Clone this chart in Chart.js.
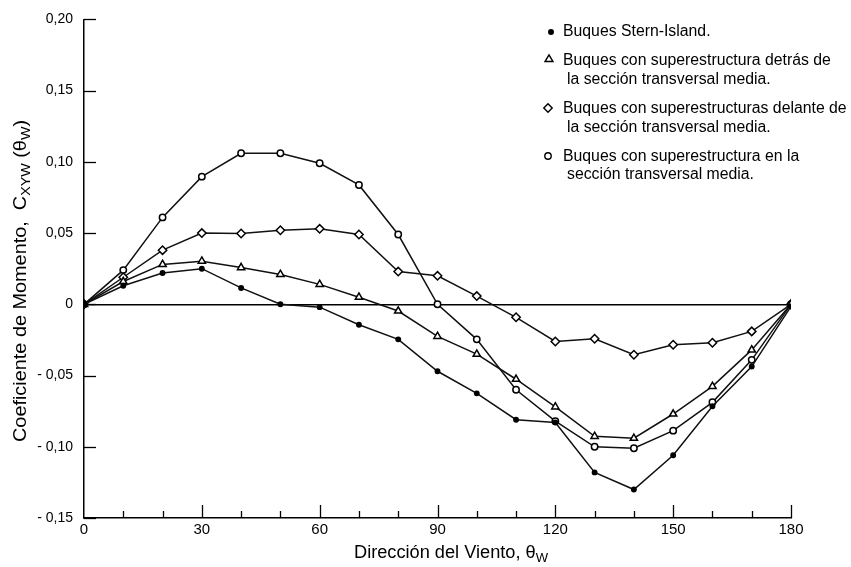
<!DOCTYPE html>
<html>
<head>
<meta charset="utf-8">
<script src="https://cdn.jsdelivr.net/npm/chart.js@4.4.1/dist/chart.umd.min.js"></script>
<style>
    html, body { margin: 0; background: #fff; }
    canvas { display: block; }
</style>
</head>
<body>
<canvas id="moment-chart" width="851" height="567"></canvas>
<script>
// Wind direction (deg) and moment coefficient per ship type
const angles = [0, 10, 20, 30, 40, 50, 60, 70, 80, 90, 100, 110, 120, 130, 140, 150, 160, 170, 180];
const sternIsland = [0, 0.013, 0.022, 0.025, 0.0115, 0, -0.002, -0.0143, -0.0246, -0.047, -0.0625, -0.081, -0.083, -0.118, -0.130, -0.106, -0.0716, -0.0437, -0.0015];
const detras = [0, 0.016, 0.028, 0.0303, 0.0258, 0.021, 0.014, 0.005, -0.0047, -0.0225, -0.035, -0.0526, -0.072, -0.0927, -0.094, -0.077, -0.0576, -0.032, 0];
const delante = [0, 0.019, 0.038, 0.050, 0.0497, 0.052, 0.053, 0.049, 0.023, 0.020, 0.0058, -0.0091, -0.0261, -0.0242, -0.0354, -0.0284, -0.027, -0.019, 0];
const enSeccion = [0, 0.024, 0.061, 0.0896, 0.106, 0.106, 0.099, 0.0838, 0.049, 0, -0.0246, -0.060, -0.082, -0.100, -0.101, -0.0887, -0.0688, -0.039, 0];

const seriesNames = [
    ['Buques Stern-Island.'],
    ['Buques con superestructura detrás de', 'la sección transversal media.'],
    ['Buques con superestructuras delante de', 'la sección transversal media.'],
    ['Buques con superestructura en la', 'sección transversal media.']
];
const yMin = -0.15, yMax = 0.20, yStep = 0.05;
const xMin = 0, xMax = 180, xStep = 30, xMinorStep = 10;

const SANS = "'Liberation Sans', Arial, sans-serif";
const NARROW = "'Liberation Sans Narrow', 'Arial Narrow', 'Liberation Sans', sans-serif";

const toPoints = vals => angles.map((a, i) => ({ x: a, y: vals[i] }));

function lineSet(name, vals, style, radius, fill) {
    return {
        label: name.join(' '), data: toPoints(vals),
        borderColor: '#111', borderWidth: 1.5, tension: 0,
        pointStyle: style, pointRadius: radius, pointBorderWidth: 1.5,
        pointBorderColor: '#000', pointBackgroundColor: fill
    };
}

// text with subscript pieces, squeezed to a target width
function drawParts(ctx, parts, size, family, x, y, targetW) {
    let w = 0;
    parts.forEach(p => { ctx.font = (p.sub ? size * 0.72 : size) + 'px ' + family; w += ctx.measureText(p.t).width; });
    const sx = targetW ? targetW / w : 1;
    ctx.save();
    ctx.translate(x, y);
    ctx.scale(sx, 1);
    let cx = 0;
    parts.forEach(p => {
        ctx.font = (p.sub ? size * 0.72 : size) + 'px ' + family;
        ctx.fillText(p.t, cx, p.sub ? size * 0.3 : 0);
        cx += ctx.measureText(p.t).width;
    });
    ctx.restore();
}

function drawMarker(ctx, style, x, y, r, fill) {
    ctx.save();
    ctx.lineWidth = 1.4;
    ctx.strokeStyle = '#000';
    ctx.fillStyle = fill;
    ctx.beginPath();
    if (style === 'circle') {
        ctx.arc(x, y, r, 0, Math.PI * 2);
    } else if (style === 'triangle') {
        ctx.moveTo(x, y - r);
        ctx.lineTo(x + r * 0.95, y + r * 0.6);
        ctx.lineTo(x - r * 0.95, y + r * 0.6);
        ctx.closePath();
    } else {
        ctx.moveTo(x, y - r); ctx.lineTo(x + r, y); ctx.lineTo(x, y + r); ctx.lineTo(x - r, y); ctx.closePath();
    }
    ctx.fill();
    ctx.stroke();
    ctx.restore();
}

const decorPlugin = {
    id: 'decor',
    afterDraw(chart) {
        const ctx = chart.ctx;
        const area = chart.chartArea;
        const xs = chart.scales.x, ys = chart.scales.y;
        ctx.save();
        ctx.strokeStyle = '#000';
        ctx.lineWidth = 1.3;
        // inward ticks
        ys.ticks.forEach(t => {
            const py = Math.round(ys.getPixelForValue(t.value)) + 0.5;
            ctx.beginPath(); ctx.moveTo(area.left, py); ctx.lineTo(area.left + 12, py); ctx.stroke();
        });
        for (let a = xMin + xMinorStep; a <= xMax; a += xMinorStep) {
            const px = Math.round(xs.getPixelForValue(a)) + 0.5;
            const len = a % xStep === 0 ? 13 : 7;
            ctx.beginPath(); ctx.moveTo(px, area.bottom); ctx.lineTo(px, area.bottom - len); ctx.stroke();
        }
        // legend
        const sets = chart.data.datasets;
        const entries = [
            { x: 551, y: 32, r: 2.3 },
            { x: 549, y: 59, r: 4.2 },
            { x: 548, y: 108, r: 4.2 },
            { x: 548, y: 156, r: 3.2 }
        ];
        const lineY = [[32], [61, 80], [109, 128], [157, 175]];
        ctx.textBaseline = 'middle';
        ctx.textAlign = 'left';
        seriesNames.forEach((lines, i) => {
            const e = entries[i];
            drawMarker(ctx, sets[i].pointStyle, e.x, e.y, e.r, sets[i].pointBackgroundColor);
            ctx.font = '15.8px ' + SANS;
            ctx.fillStyle = '#000';
            lines.forEach((ln, j) => ctx.fillText(ln, j === 0 ? 563 : 567, lineY[i][j]));
        });
        // axis titles
        ctx.fillStyle = '#000';
        drawParts(ctx, [{ t: 'Dirección del Viento, θ' }, { t: 'W', sub: true }], 18, NARROW, 354, 553, 194);
        ctx.save();
        ctx.translate(21, 442);
        ctx.rotate(-Math.PI / 2);
        drawParts(ctx, [
            { t: 'Coeficiente de Momento,  C' }, { t: 'XYW', sub: true },
            { t: ' (θ' }, { t: 'W', sub: true }, { t: ')' }
        ], 18, SANS, 0, 0, 322);
        ctx.restore();
        ctx.restore();
    }
};

new Chart(document.getElementById('moment-chart'), {
    type: 'line',
    data: {
        datasets: [
            lineSet(seriesNames[0], sternIsland, 'circle', 2.2, '#000'),
            lineSet(seriesNames[1], detras, 'triangle', 4.2, '#fff'),
            lineSet(seriesNames[2], delante, 'rectRot', 4.2, '#fff'),
            lineSet(seriesNames[3], enSeccion, 'circle', 3.2, '#fff')
        ]
    },
    options: {
        responsive: false,
        animation: false,
        layout: { padding: { top: 17, right: 60, left: 0, bottom: 0 } },
        plugins: { legend: { display: false }, tooltip: { enabled: false } },
        scales: {
            x: {
                type: 'linear', min: xMin, max: xMax,
                afterFit: s => { s.height = 49; },
                ticks: { stepSize: xStep, color: '#000', padding: 3, maxRotation: 0, font: { family: NARROW, size: 15 } },
                grid: { display: false, drawTicks: false },
                border: { display: true, color: '#000', width: 1.5 }
            },
            y: {
                min: yMin, max: yMax,
                afterFit: s => { s.width = 84; },
                ticks: {
                    stepSize: yStep, color: '#000', padding: 11, font: { family: SANS, size: 14 },
                    callback: v => {
                        if (Math.abs(v) < 1e-9) return '0';
                        const s = Math.abs(v).toFixed(2).replace('.', ',');
                        return v < 0 ? '- ' + s : s;
                    }
                },
                grid: {
                    drawTicks: false, lineWidth: 1.4,
                    color: c => (c.tick && Math.abs(c.tick.value) < 1e-9 ? '#000' : 'rgba(0,0,0,0)')
                },
                border: { display: true, color: '#000', width: 1.5 }
            }
        }
    },
    plugins: [decorPlugin]
});
</script>
</body>
</html>
